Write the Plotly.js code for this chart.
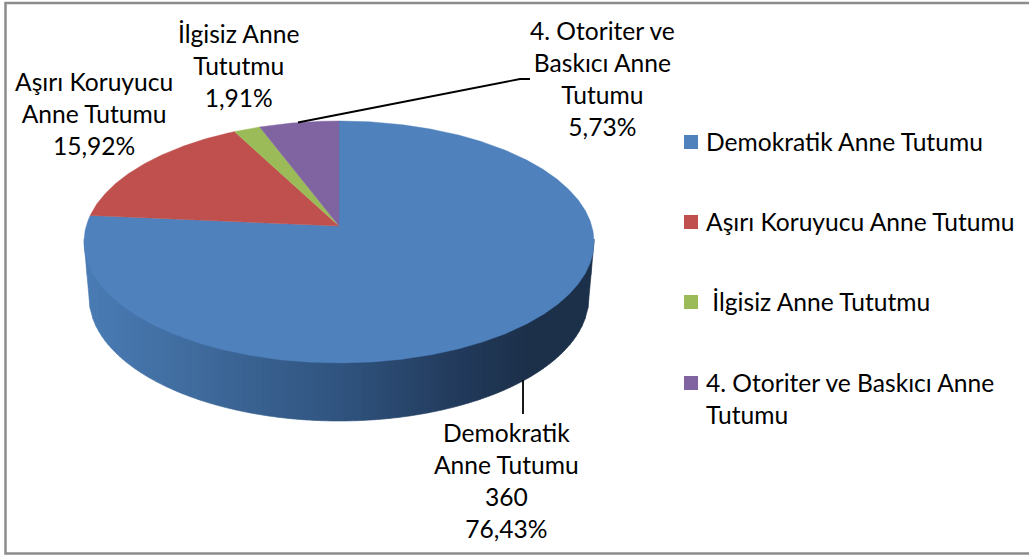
<!DOCTYPE html>
<html>
<head>
<meta charset="utf-8">
<script src="https://cdn.plot.ly/plotly-3.0.1.min.js"></script>
<style>html,body{margin:0;padding:0;background:#fff}#chart{width:1029px;height:556px}</style>
</head>
<body>
<div id="chart"></div>
<script>
// Chart data
const categories = ["Demokratik Anne Tutumu", "Aşırı Koruyucu Anne Tutumu", "İlgisiz Anne Tututmu", "4. Otoriter ve Baskıcı Anne Tutumu"];
const values = [360, 75, 9, 27];
const sliceColors = ["#4f81bd", "#c0504d", "#9bbb59", "#8064a2"];
const sliceLabels = [
  "Demokratik<br>Anne Tutumu<br>360<br>76,43%",
  "Aşırı Koruyucu<br>Anne Tutumu<br>15,92%",
  "İlgisiz Anne<br>Tututmu<br>1,91%",
  "4. Otoriter ve<br>Baskıcı Anne<br>Tutumu<br>5,73%"
];
const legendLabels = ["Demokratik Anne Tutumu", "Aşırı Koruyucu Anne Tutumu", "&nbsp;İlgisiz Anne Tututmu", "4. Otoriter ve Baskıcı Anne<br>Tutumu"];

// Perspective pie geometry (pixel-scaled axes)
const hub = {x: 339, y: 226}, persp = 0.132, bx = 252.8, by = 118.9;
const project = (deg) => {
  const a = deg * Math.PI / 180, u = Math.sin(a), v = Math.cos(a), d = 1 + persp * v;
  return [hub.x + bx * u / d, hub.y - by * v / d];
};
const topEll = {cy: 242, rx: 255, ry: 121};
const botEll = {cy: 297, rx: 250, ry: 124};
const wallStops = [[84,[74,124,181]],[200,[63,106,156]],[339,[48,84,127]],[450,[35,60,94]],[525,[28,48,74]],[595,[28,48,74]]];

const wallColor = (x) => {
  for (let i = 0; i < wallStops.length - 1; i++) {
    const [x0, c0] = wallStops[i], [x1, c1] = wallStops[i + 1];
    if (x <= x1) {
      const t = Math.max(0, (x - x0) / (x1 - x0));
      return "rgb(" + c0.map((c, k) => Math.round(c + (c1[k] - c) * t)).join(",") + ")";
    }
  }
  return "rgb(28,48,74)";
};
const topLow = (x) => {
  const t = (x - hub.x) / topEll.rx;
  return topEll.cy + topEll.ry * Math.sqrt(Math.max(0, 1 - t * t));
};
const botLow = (x) => {
  const dx = Math.abs(x - hub.x);
  if (dx <= botEll.rx) {
    const t = dx / botEll.rx;
    return botEll.cy + botEll.ry * Math.sqrt(Math.max(0, 1 - t * t));
  }
  return topEll.cy + (botEll.cy - topEll.cy) * (topEll.rx - dx) / (topEll.rx - botEll.rx);
};

const traces = [];
// Side wall as narrow gradient strips
const wallStep = 3;
for (let x = hub.x - topEll.rx; x < hub.x + topEll.rx; x += wallStep) {
  const xs = [], yt = [], yb = [];
  for (let i = 0; i <= 3; i++) {
    const px = Math.min(x + wallStep * i / 3, hub.x + topEll.rx);
    xs.push(px); yt.push(topLow(px) - 3); yb.push(botLow(px));
  }
  const col = wallColor(x + wallStep / 2);
  traces.push({
    type: "scatter", mode: "lines", x: xs.concat(xs.slice().reverse()), y: yt.concat(yb.slice().reverse()),
    fill: "toself", fillcolor: col, line: {color: col, width: 0.6}, hoverinfo: "skip", showlegend: false
  });
}
// Top faces, clockwise from 12 o'clock
const total = values.reduce((a, b) => a + b, 0);
let cum = 0;
values.forEach((val, i) => {
  const start = cum / total * 360, end = (cum + val) / total * 360;
  cum += val;
  const xs = [hub.x], ys = [hub.y];
  const n = Math.max(4, Math.ceil((end - start) * 2));
  for (let k = 0; k <= n; k++) {
    const p = project(start + (end - start) * k / n);
    xs.push(p[0]); ys.push(p[1]);
  }
  xs.push(hub.x); ys.push(hub.y);
  traces.push({
    type: "scatter", mode: "lines", name: categories[i], x: xs, y: ys, fill: "toself",
    fillcolor: sliceColors[i], line: {color: sliceColors[i], width: 0.4},
    text: categories[i] + ": " + val, hoverinfo: "text", showlegend: false
  });
});
// Leader lines
traces.push({type: "scatter", mode: "lines", x: [298, 520, 530], y: [122.5, 79, 79], line: {color: "#000", width: 1.8}, hoverinfo: "skip", showlegend: false});
traces.push({type: "scatter", mode: "lines", x: [523, 523], y: [380, 414], line: {color: "#000", width: 1.8}, hoverinfo: "skip", showlegend: false});
// Legend keys
const legendY = [142, 222, 302, 383];
traces.push({
  type: "scatter", mode: "markers", x: legendY.map(() => 691), y: legendY,
  marker: {symbol: "square", size: 14, color: sliceColors, line: {width: 0}}, hoverinfo: "skip", showlegend: false
});

const fontFamily = "Lato, Carlito, 'Open Sans', sans-serif";
const fontSize = 24.6;
const labelPos = [[506, 480], [93.5, 113.5], [238, 65], [602, 78]];
const annotations = sliceLabels.map((t, i) => ({
  xref: "x", yref: "y", x: labelPos[i][0], y: labelPos[i][1], text: t, showarrow: false,
  xanchor: "center", yanchor: "middle", align: "center", font: {family: fontFamily, size: fontSize, color: "#000"}
})).concat(legendLabels.map((t, i) => ({
  xref: "x", yref: "y", x: 703.5, y: legendY[i] - 0.5 + (i === 3 ? 16 : 0), text: t, showarrow: false,
  xanchor: "left", yanchor: "middle", align: "left", font: {family: fontFamily, size: fontSize, color: "#000"}
})));

const layout = {
  width: 1029, height: 556, margin: {l: 0, r: 0, t: 0, b: 0, pad: 0},
  paper_bgcolor: "#fff", plot_bgcolor: "#fff", showlegend: false,
  xaxis: {range: [0, 1029], visible: false, fixedrange: true},
  yaxis: {range: [556, 0], visible: false, fixedrange: true},
  annotations: annotations,
  shapes: [{type: "rect", xref: "x", yref: "y", x0: 5.5, y0: 3, x1: 1035, y1: 553.5, line: {color: "#8c8c8c", width: 2.5}, layer: "below"}]
};
Plotly.newPlot("chart", traces, layout, {displayModeBar: false, staticPlot: true});
</script>
</body>
</html>
